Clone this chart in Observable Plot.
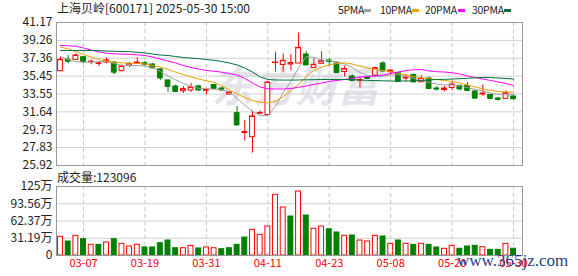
<!DOCTYPE html>
<html><head><meta charset="utf-8">
<script src="https://cdn.jsdelivr.net/npm/d3@7"></script>
<script src="https://cdn.jsdelivr.net/npm/@observablehq/plot@0.6"></script>
<style>
body{margin:0;background:#fff;}
#wrap{position:relative;width:578px;height:276px;overflow:hidden;font-family:"Noto Sans CJK SC",sans-serif;color:#222;background:#fff;}
.abs{position:absolute;white-space:nowrap;}
</style></head><body><div id="wrap"></div>
<script>
const dates = ["03-04","03-05","03-06","03-07","03-10","03-11","03-12","03-13","03-14","03-17","03-18","03-19","03-20","03-21","03-24","03-25","03-26","03-27","03-28","03-31",
"04-01","04-02","04-03","04-07","04-08","04-09","04-10","04-11","04-14","04-15","04-16","04-17","04-18","04-21","04-22","04-23","04-24","04-25","04-28","04-29","04-30",
"05-06","05-07","05-08","05-09","05-12","05-13","05-14","05-15","05-16","05-19","05-20","05-21","05-22","05-23","05-26","05-27","05-28","05-29","05-30"];
const open  = [35.98,37.19,37.19,37.47,36.97,36.77,36.90,36.90,35.98,36.53,36.80,36.82,36.69,36.16,34.99,34.35,33.84,33.92,34.35,33.89,34.50,34.13,33.49,31.50,29.39,28.94,31.47,31.31,36.85,36.64,36.69,36.80,37.76,36.32,36.77,37.12,36.80,35.89,35.41,34.99,35.30,35.52,36.80,35.87,35.78,35.20,35.57,34.80,35.20,34.13,33.97,34.19,34.42,34.40,33.81,33.50,33.44,33.07,33.03,33.28];
const high  = [37.47,37.65,37.83,37.50,37.19,37.01,37.41,37.00,36.60,36.90,37.41,37.00,36.80,36.27,35.04,34.50,34.35,34.67,34.50,34.03,34.61,34.24,33.81,32.21,30.72,31.73,31.73,34.88,38.02,37.83,37.76,40.05,38.05,37.28,38.05,37.30,37.01,36.53,35.57,35.34,35.34,36.40,36.98,36.10,35.89,35.62,35.68,35.47,35.30,34.35,34.35,34.83,34.45,34.77,33.92,34.50,33.55,33.20,33.87,33.33];
const low   = [35.90,36.77,37.17,36.77,36.66,36.48,36.77,35.62,35.90,36.37,36.77,36.48,36.30,34.99,33.71,33.76,33.60,33.71,33.81,33.49,34.08,33.81,33.44,30.24,28.51,27.25,31.36,31.20,35.89,35.87,36.00,36.78,36.64,36.30,36.69,36.48,35.70,35.34,34.88,34.17,35.09,35.36,35.84,35.52,34.88,34.83,34.80,34.74,34.03,33.87,33.78,33.92,33.87,33.89,33.07,33.28,33.07,32.80,33.03,33.03];
const close = [37.19,37.04,37.65,37.01,37.00,36.80,37.12,35.87,36.48,36.74,36.90,36.72,36.33,35.25,34.35,33.81,34.06,34.24,33.97,34.00,34.13,33.97,33.71,30.24,29.49,31.15,31.52,34.77,36.90,37.09,36.85,38.47,36.64,36.66,37.04,37.01,35.84,36.21,34.99,35.04,35.20,36.30,36.00,36.05,34.88,35.30,34.83,35.17,34.13,34.06,34.13,34.56,34.08,33.92,33.10,33.60,33.07,32.96,33.63,33.03];
const ma5  = [37.54,37.22,36.98,36.94,36.94,37.01,37.04,36.80,36.61,36.58,36.58,36.53,36.40,35.94,35.47,35.04,34.67,34.35,34.15,34.10,34.06,34.03,33.79,33.07,32.37,31.68,31.25,31.25,32.21,33.70,34.88,36.32,37.54,37.44,37.17,37.12,36.96,36.74,36.37,35.84,35.52,35.41,35.46,35.57,35.62,35.41,35.20,34.99,34.77,34.61,34.51,34.51,34.40,34.24,34.03,33.87,33.65,33.49,33.46,33.49];
const ma10 = [38.56,38.34,38.08,37.76,37.49,37.22,37.03,36.93,36.87,36.83,36.80,36.74,36.61,36.42,36.18,35.87,35.62,35.36,35.14,34.95,34.80,34.40,33.97,33.55,33.17,32.85,32.67,32.59,32.77,33.28,33.92,34.56,35.41,36.05,36.42,36.64,36.80,36.87,36.74,36.53,36.32,36.16,36.05,35.94,35.78,35.57,35.41,35.25,35.17,35.09,34.99,34.88,34.72,34.51,34.29,34.08,33.92,33.81,33.76,33.74];
const ma20 = [38.72,38.69,38.64,38.45,38.24,38.03,37.89,37.83,37.80,37.77,37.72,37.65,37.49,37.28,37.06,36.85,36.58,36.37,36.21,36.05,35.97,35.87,35.73,35.57,35.20,34.71,34.29,34.10,34.08,34.08,34.13,34.26,34.40,34.56,34.72,34.88,34.99,35.09,35.20,35.36,35.41,35.47,35.57,35.73,35.89,36.05,36.13,36.16,36.00,35.92,35.89,35.81,35.68,35.47,35.30,35.14,34.99,34.83,34.67,34.45];
const ma30 = [38.18,38.18,38.18,38.18,38.18,38.16,38.13,38.10,38.08,38.05,38.00,37.92,37.81,37.70,37.65,37.54,37.44,37.37,37.31,37.22,37.14,37.01,36.85,36.64,36.32,35.89,35.36,35.09,35.04,35.03,35.03,35.04,35.06,35.07,35.09,35.09,35.09,35.09,35.07,35.04,35.00,34.98,34.95,34.93,34.93,34.93,34.95,34.98,35.04,35.09,35.11,35.14,35.18,35.22,35.27,35.30,35.30,35.25,35.20,35.14];
const volume = [33.8,25.3,35.6,29.5,19.3,19.3,23.5,29.5,21.1,16.3,19.3,14.5,14.5,22.2,27.1,13.2,13.2,17.5,12.7,14.5,13.2,11.4,13.2,19.3,32.5,46.4,37.4,52.4,109.7,86.8,70.5,115.7,72.3,48.3,52.4,47.5,41.6,35.6,36.2,27.1,25.3,35.6,34.4,21.1,27.1,21.1,19.3,21.1,19.3,14.5,12.1,17.5,12.1,16.3,17.5,15.0,10.3,10.3,21.1,12.3];
const volUp = [1,0,1,0,1,0,1,0,1,1,1,0,0,0,0,0,1,1,0,1,1,0,0,0,0,1,1,1,1,1,0,1,0,1,1,0,0,1,0,1,1,1,0,1,0,1,0,1,0,0,1,1,0,0,0,1,0,0,1,0];
const priceTicks = [25.92,27.83,29.73,31.64,33.55,35.45,37.36,39.26,41.17];
const volTicks = [0,31.19,62.37,93.56,124.75];
const volTickLabels = ["0","31.19万","62.37万","93.56万","125万"];
const tickDates = ["03-07","03-19","03-31","04-11","04-23","05-08","05-20","05-30"];
const legendLabels = ["5PMA","10PMA","20PMA","30PMA"];
const title = "上海贝岭[600171] 2025-05-30 15:00";
const volTitle = "成交量:123096";
const watermark = "东方财富";
const siteMark = "www.365jz.com";

const RED = "#ff0000", GREEN = "#008000";
const maColors = ["#a0a0a0","#f0a000","#ff00ff","#00703c"];
const tickIdx = tickDates.map(d => dates.indexOf(d));
const candles = dates.map((d,i) => ({i, o: open[i], h: high[i], l: low[i], c: close[i], up: close[i] >= open[i]}));
const upC = candles.filter(d => d.up), dnC = candles.filter(d => !d.up);
const vols = volume.map((v,i) => ({i, v, up: volUp[i] === 1}));
const xDomain = [-0.52, 60.16];
const hw = 0.31;
const font = "'Noto Sans CJK SC', sans-serif";
const maMarks = [ma5, ma10, ma20, ma30].map((arr, k) =>
  Plot.lineY(arr, {x: (d,i) => i, y: d => d, stroke: maColors[k], strokeWidth: 1}));

const price = Plot.plot({
  width: 578, height: 170,
  marginLeft: 56, marginRight: 56, marginTop: 22, marginBottom: 5,
  x: {domain: xDomain, axis: null},
  y: {domain: [priceTicks[0], priceTicks[priceTicks.length-1]]},
  style: {fontFamily: font, fontSize: "12px", background: "transparent", color: "#222", overflow: "visible"},
  marks: [
    Plot.text([watermark], {frameAnchor: "middle", dx: 6, dy: -5, fontSize: 42, fontWeight: "bold", fontStyle: "italic", fill: "#e4e4ea"}),
    Plot.ruleY(priceTicks.slice(1, -1), {stroke: "#d0d0d0"}),
    Plot.ruleX(tickIdx, {stroke: "#c8c8c8", strokeDasharray: "4,3"}),
    Plot.ruleX(upC, {x: "i", y1: "l", y2: "h", stroke: RED}),
    Plot.ruleX(dnC, {x: "i", y1: "l", y2: "h", stroke: GREEN}),
    Plot.rect(upC, {x1: d => d.i - hw, x2: d => d.i + hw, y1: "o", y2: "c", fill: "white", stroke: RED}),
    Plot.rect(dnC, {x1: d => d.i - hw, x2: d => d.i + hw, y1: "o", y2: "c", fill: GREEN, stroke: GREEN}),
    Plot.ruleY(upC, {y: "c", x1: d => d.i - hw, x2: d => d.i + hw, stroke: RED}),
    Plot.ruleY(dnC, {y: "c", x1: d => d.i - hw, x2: d => d.i + hw, stroke: GREEN}),
    ...maMarks,
    Plot.frame({stroke: "#999"}),
    Plot.axisY(priceTicks, {tickSize: 0, tickPadding: 4, tickFormat: d => d.toFixed(2), fontSize: 12, label: null})
  ]
});

const vol = Plot.plot({
  width: 578, height: 106,
  marginLeft: 56, marginRight: 56, marginTop: 16, marginBottom: 21,
  x: {domain: xDomain, axis: null},
  y: {domain: [0, volTicks[volTicks.length-1]]},
  style: {fontFamily: font, fontSize: "12px", background: "transparent", color: "#222", overflow: "visible"},
  marks: [
    Plot.ruleY(volTicks.slice(1, -1), {stroke: "#d0d0d0"}),
    Plot.ruleX(tickIdx, {stroke: "#c8c8c8", strokeDasharray: "4,3"}),
    Plot.rect(vols.filter(d => d.up), {x1: d => d.i - 0.32, x2: d => d.i + 0.32, y1: 0, y2: "v", fill: "white", stroke: RED}),
    Plot.rect(vols.filter(d => !d.up), {x1: d => d.i - 0.32, x2: d => d.i + 0.32, y1: 0, y2: "v", fill: GREEN, stroke: GREEN}),
    Plot.frame({stroke: "#999"}),
    Plot.axisY(volTicks, {tickSize: 0, tickPadding: 4, tickFormat: d => volTickLabels[volTicks.indexOf(d)], fontSize: 12, label: null}),
    Plot.text(tickIdx, {x: d => d, frameAnchor: "bottom", dy: 11, text: d => dates[d], fill: RED, fontSize: 11})
  ]
});

const wrap = document.getElementById("wrap");
function place(el, left, top) { el.style.position = "absolute"; el.style.left = left + "px"; el.style.top = top + "px"; wrap.appendChild(el); return el; }
place(price, 0, 0);
place(vol, 0, 170);

function label(text, left, top, css) {
  const d = document.createElement("div");
  d.className = "abs"; d.textContent = text;
  Object.assign(d.style, {fontSize: "12px", lineHeight: "16px"}, css || {});
  return place(d, left, top);
}
label(title, 57, 0, {color: "#222"});
label(volTitle, 57, 169, {color: "#222"});

const legX = [338, 380, 425, 472];
const legW = [26, 32, 33, 32];
legendLabels.forEach((t, k) => {
  label(t, legX[k], 2, {fontSize: "10.5px", color: "#222", letterSpacing: "-0.3px"});
  const bar = document.createElement("div");
  Object.assign(bar.style, {width: "7px", height: "3px", background: maColors[k]});
  place(bar, legX[k] + legW[k], 9);
});

label(siteMark, 457, 252, {fontFamily: "'Liberation Serif', serif", fontSize: "17px", lineHeight: "17px", color: "#1e3f87"});
</script></body></html>
